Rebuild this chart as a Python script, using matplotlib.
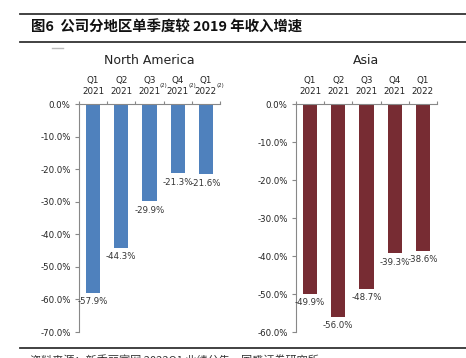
import matplotlib
matplotlib.use("Agg")
import matplotlib.pyplot as plt
from matplotlib.lines import Line2D

plt.rcParams['font.family'] = ['DejaVu Sans', 'Noto Sans CJK SC']

quarters = ["Q1", "Q2", "Q3", "Q4", "Q1"]
years = ["2021", "2021", "2021", "2021", "2022"]
na_values = [-57.9, -44.3, -29.9, -21.3, -21.6]
asia_values = [-49.9, -56.0, -48.7, -39.3, -38.6]
na_footnote = [False, False, True, True, True]
na_ticks = [0, -10, -20, -30, -40, -50, -60, -70]
asia_ticks = [0, -10, -20, -30, -40, -50, -60]

W, H = 466, 358
fig = plt.figure(figsize=(W / 100, H / 100), dpi=100)
fig.patch.set_facecolor("white")

def fx(px):
    return px / W

def fy(py):
    return 1 - py / H

AX_TOP, AX_BOT = 104, 332

def afy(py):
    return (AX_BOT - py) / (AX_BOT - AX_TOP)

# header lines and title
for yy in (14, 42, 348):
    fig.add_artist(Line2D([fx(20), fx(466)], [fy(yy), fy(yy)], color="#333333", lw=1.3))
fig.add_artist(Line2D([fx(52), fx(63)], [fy(47.5), fy(47.5)], color="#bbbbbb", lw=1.0))
fig.text(fx(31), fy(28), "图6  公司分地区单季度较 2019 年收入增速", fontsize=10.4,
         fontweight="bold", family=["Noto Sans CJK SC", "DejaVu Sans"], va="center", ha="left",
         color="#111111")
fig.text(fx(30), fy(354), "资料来源：新秀丽官网 2022Q1 业绩公告，国盛证券研究所", fontsize=8,
         family=["Noto Sans CJK SC", "DejaVu Sans"], va="top", ha="left", color="#333333")


def draw(left_px, title, values, ticks, color, footnotes):
    ax = fig.add_axes([fx(left_px), fy(AX_BOT), fx(141), (AX_BOT - AX_TOP) / H])
    xs = list(range(len(values)))
    ax.bar(xs, values, width=0.5, color=color, zorder=2)
    ax.set_xlim(-0.5, len(values) - 0.5)
    ax.set_ylim(min(ticks), 0)
    ax.set_yticks(ticks)
    ax.set_yticklabels([f"{t:.1f}%" for t in ticks], fontsize=6.2, color="#222222")
    ax.tick_params(axis="y", direction="out", length=3, color="#888888", pad=3, width=0.8)
    for s in ("right", "bottom"):
        ax.spines[s].set_visible(False)
    ax.spines["left"].set_color("#888888")
    ax.spines["top"].set_color("#888888")
    ax.spines["left"].set_linewidth(0.8)
    ax.spines["top"].set_linewidth(0.8)
    ax.xaxis.tick_top()
    ax.set_xticks(xs)
    ax.set_xticklabels([f"{q}\n{y}" for q, y in zip(quarters, years)], fontsize=6.3,
                       color="#222222", linespacing=1.2)
    ax.tick_params(axis="x", which="major", length=0, pad=6)
    ax.set_xticks([x - 0.5 for x in range(len(values) + 1)], minor=True)
    ax.tick_params(axis="x", which="minor", direction="out", length=2.5, color="#888888", width=0.8)
    for x, v in zip(xs, values):
        ax.annotate(f"{v:.1f}%", (x, v), xytext=(0, -3), textcoords="offset points",
                    ha="center", va="top", fontsize=6.2, color="#333333")
    if footnotes:
        for x, f in zip(xs, footnotes):
            if f:
                ax.annotate("(2)", (x, afy(86)), xytext=(7.5, 0), textcoords="offset points",
                            xycoords=("data", "axes fraction"), ha="left", va="center",
                            fontsize=4, color="#222222", annotation_clip=False)
    ax.text(0.5, afy(61), title, transform=ax.transAxes, ha="center", va="center",
            fontsize=9, color="#222222")
    return ax

ax1 = draw(79, "North America", na_values, na_ticks, "#4F81BD", na_footnote)
ax2 = draw(296, "Asia", asia_values, asia_ticks, "#772C33", None)

fig.savefig("out.png", dpi=100, facecolor="white")
